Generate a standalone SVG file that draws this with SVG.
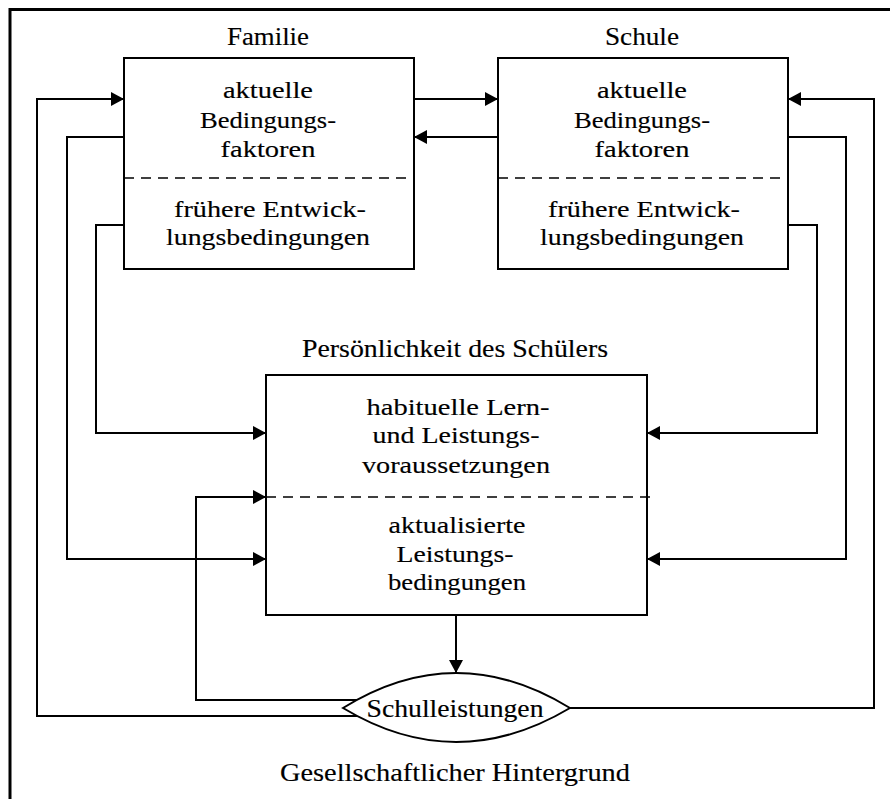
<svg xmlns="http://www.w3.org/2000/svg" width="890" height="799" viewBox="0 0 890 799">
<defs>
<marker id="ah" viewBox="0 0 13 14" markerWidth="13" markerHeight="14" refX="13" refY="7" orient="auto" markerUnits="userSpaceOnUse">
<path d="M0,0 L13,7 L0,14 z" fill="#000"/>
</marker>
</defs>
<style>
text{font-family:"Liberation Serif","Times New Roman",serif;fill:#000;stroke:#000;stroke-width:0.15;text-anchor:middle}
.t{font-size:24px}
.l{font-size:25px}
.box{fill:#fff;stroke:#000;stroke-width:2}
.dash{stroke:#000;stroke-width:1.5;stroke-dasharray:10 7;fill:none}
.c{fill:none;stroke:#000;stroke-width:2}
.a{marker-end:url(#ah)}
.frame{fill:none;stroke:#000;stroke-width:3}
</style>
<rect width="890" height="799" fill="#fff"/>
<path class="frame" d="M10,799 V9.5 H890"/>

<g id="connectors">
<path class="c a" d="M414,99 H498"/>
<path class="c a" d="M498,137 H414"/>
<path class="c a" d="M360,716 H37 V99 H124"/>
<path class="c a" d="M124,137 H67 V559 H266"/>
<path class="c a" d="M124,225 H96 V433 H266"/>
<path class="c a" d="M360,700 H196 V497 H266"/>
<path class="c a" d="M560,708 H874 V99 H788"/>
<path class="c a" d="M788,137 H846 V559 H647"/>
<path class="c a" d="M788,225 H817 V433 H647"/>
<path class="c a" d="M456,615 V673"/>
</g>

<g id="familie">
<text class="l" x="268" y="45" textLength="82" lengthAdjust="spacingAndGlyphs">Familie</text>
<rect class="box" x="124" y="58" width="290" height="211"/>
<line class="dash" x1="124" y1="178" x2="414" y2="178"/>
<text class="t" x="268" y="98" textLength="90" lengthAdjust="spacingAndGlyphs">aktuelle</text>
<text class="t" x="268" y="128" textLength="136" lengthAdjust="spacingAndGlyphs">Bedingungs-</text>
<text class="t" x="268" y="157" textLength="95" lengthAdjust="spacingAndGlyphs">faktoren</text>
<text class="t" x="270" y="217" textLength="192" lengthAdjust="spacingAndGlyphs">frühere Entwick-</text>
<text class="t" x="268" y="245" textLength="204" lengthAdjust="spacingAndGlyphs">lungsbedingungen</text>
</g>

<g id="schule">
<text class="l" x="642" y="45" textLength="74" lengthAdjust="spacingAndGlyphs">Schule</text>
<rect class="box" x="498" y="58" width="290" height="211"/>
<line class="dash" x1="498" y1="178" x2="788" y2="178"/>
<text class="t" x="642" y="98" textLength="90" lengthAdjust="spacingAndGlyphs">aktuelle</text>
<text class="t" x="642" y="128" textLength="136" lengthAdjust="spacingAndGlyphs">Bedingungs-</text>
<text class="t" x="642" y="157" textLength="95" lengthAdjust="spacingAndGlyphs">faktoren</text>
<text class="t" x="644" y="217" textLength="192" lengthAdjust="spacingAndGlyphs">frühere Entwick-</text>
<text class="t" x="642" y="245" textLength="204" lengthAdjust="spacingAndGlyphs">lungsbedingungen</text>
</g>

<g id="persoenlichkeit">
<text class="l" x="455" y="357" textLength="306" lengthAdjust="spacingAndGlyphs">Persönlichkeit des Schülers</text>
<rect class="box" x="266" y="375" width="381" height="240"/>
<line class="dash" x1="266" y1="497" x2="650" y2="497"/>
<text class="t" x="458" y="415" textLength="183" lengthAdjust="spacingAndGlyphs">habituelle Lern-</text>
<text class="t" x="456" y="443" textLength="167" lengthAdjust="spacingAndGlyphs">und Leistungs-</text>
<text class="t" x="456" y="473" textLength="188" lengthAdjust="spacingAndGlyphs">voraussetzungen</text>
<text class="t" x="457" y="533" textLength="137" lengthAdjust="spacingAndGlyphs">aktualisierte</text>
<text class="t" x="455" y="562" textLength="117" lengthAdjust="spacingAndGlyphs">Leistungs-</text>
<text class="t" x="457" y="590" textLength="138" lengthAdjust="spacingAndGlyphs">bedingungen</text>
</g>

<g id="schulleistungen">
<path class="box" d="M343,708 Q456,638 570,708 Q456,776 343,708 Z"/>
<text class="l" x="455" y="717" textLength="177" lengthAdjust="spacingAndGlyphs">Schulleistungen</text>
</g>

<g id="hintergrund">
<text class="l" x="455" y="781" textLength="350" lengthAdjust="spacingAndGlyphs">Gesellschaftlicher Hintergrund</text>
</g>
</svg>
